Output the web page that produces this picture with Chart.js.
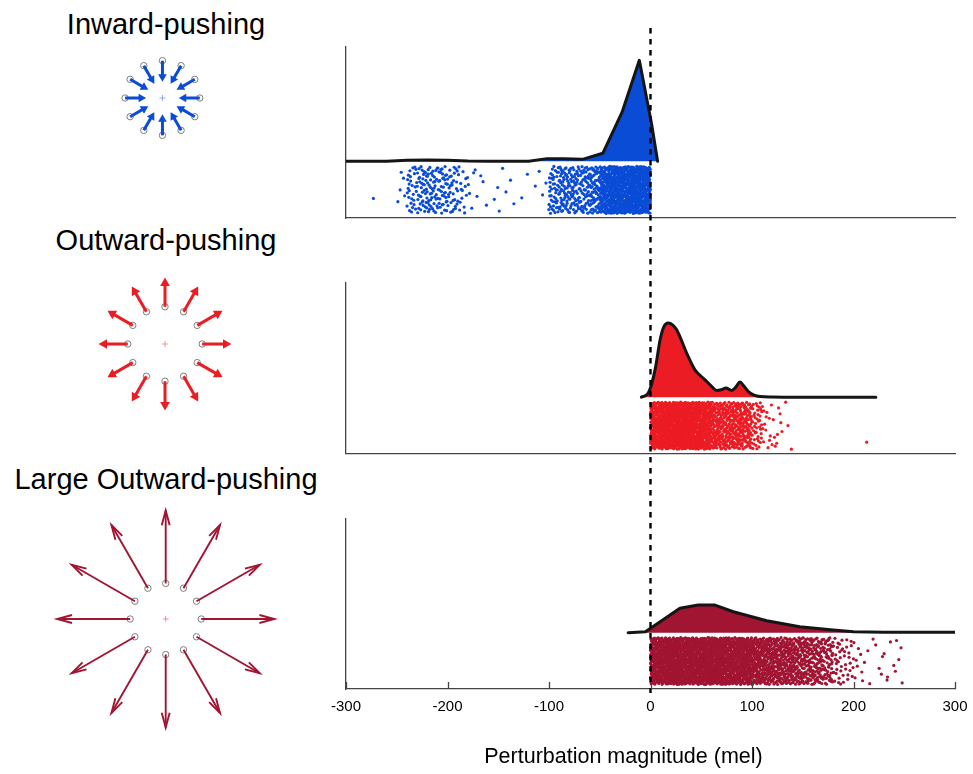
<!DOCTYPE html>
<html>
<head>
<meta charset="utf-8">
<script src="https://cdn.jsdelivr.net/npm/chart.js@4.4.0/dist/chart.umd.min.js"></script>
<style>
  html, body { margin: 0; padding: 0; background: #fff; }
  #fig { position: relative; width: 973px; height: 774px; overflow: hidden;
         font-family: "Liberation Sans", Arial, Helvetica, sans-serif; color: #000; }
  #fig canvas { position: absolute; }
  .ttl { position: absolute; font-size: 29px; line-height: 29px; white-space: nowrap;
         transform: translateX(-50%); }
  #xlabel { position: absolute; font-size: 21.5px; line-height: 21.5px; white-space: nowrap;
            transform: translateX(-50%); left: 623.5px; top: 746px; }
</style>
</head>
<body>
<div id="fig">
  <div class="ttl" style="left:166px;top:9.5px">Inward-pushing</div>
  <div class="ttl" style="left:166px;top:225.5px">Outward-pushing</div>
  <div class="ttl" style="left:166px;top:464.5px">Large Outward-pushing</div>

  <canvas id="panelIn"    width="973" height="250" style="left:0;top:0"></canvas>
  <canvas id="panelOut"   width="973" height="236" style="left:0;top:250px"></canvas>
  <canvas id="panelLarge" width="973" height="288" style="left:0;top:486px"></canvas>

  <canvas id="diagIn"    width="100" height="100" style="left:112px;top:48px"></canvas>
  <canvas id="diagOut"   width="160" height="160" style="left:85px;top:264px"></canvas>
  <canvas id="diagLarge" width="250" height="250" style="left:41px;top:494px"></canvas>

  <div id="xlabel">Perturbation magnitude (mel)</div>
</div>

<script>
// ---------- values ----------
const xTicks = [-300, -200, -100, 0, 100, 200, 300];
const binWidth = 10;                 // mel per strip bin

// Inward-pushing
const inwardDensityX = [-300, -280, -260, -240, -220, -200, -180, -160, -140, -120, -102, -85, -67, -47, -28, -11, 1, 7];
const inwardDensityY = [0, 0, 0, 0.01, 0.014, 0.012, 0.004, 0.002, 0, 0, 0.027, 0.025, 0.02, 0.08, 0.49, 1.007, 0.377, 0];
const inwardBinStart = -280;
const inwardCounts = [0, 0, 0, 5, 28, 38, 40, 38, 30, 16, 6, 3, 2, 3, 2, 2, 1, 4, 45, 55, 55, 55, 70, 130, 150, 160, 170, 170];
const inwardSingles = [[-273, -0.37]];

// Outward-pushing
const outwardDensityX = [-9, -3, 0, 5, 9.4, 13, 17.5, 22, 25.8, 30, 35.6, 43.8, 53.7, 60, 65.2, 70, 74.4, 80, 84, 88.2, 92, 96.4, 102, 108, 120, 140, 222];
const outwardDensityY = [0, 0.03, 0.093, 0.3, 0.57, 0.7, 0.74, 0.72, 0.673, 0.58, 0.44, 0.273, 0.173, 0.11, 0.066, 0.075, 0.09, 0.066, 0.1, 0.15, 0.11, 0.056, 0.02, 0.006, 0.002, 0, 0];
const outwardBinStart = 0;
const outwardCounts = [170, 200, 200, 190, 180, 150, 100, 95, 100, 85, 40, 14, 9, 3];
const outwardSingles = [[213, -0.45]];

// Large Outward-pushing
const largeDensityX = [-22, -5, 29, 47, 63.5, 81.6, 114.5, 147, 180, 200, 230, 300];
const largeDensityY = [0, 0.01, 0.244, 0.277, 0.277, 0.21, 0.12, 0.06, 0.027, 0.01, 0.004, 0.004];
const largeBinStart = 0;
const largeCounts = [170, 175, 180, 180, 180, 180, 175, 170, 165, 160, 115, 110, 105, 100, 90, 85, 75, 60, 25, 18, 8, 4, 4, 5, 5];
const largeSingles = [];

// Perturbation diagrams: 12 directions, ring of start positions and arrow tip radius
const arrowAngles = [0, 30, 60, 90, 120, 150, 180, 210, 240, 270, 300, 330];
const inwardRing = 41.5,  inwardTip = 18.7;
const outwardRing = 40,   outwardTip = 71;
const largeRing = 37,     largeTip = 113;

// ---------- styling ----------
const FONT = "'Liberation Sans', Arial, Helvetica, sans-serif";
const AXIS = '#444444';
const BLUE = '#0a4cd6';
const RED = '#ec1c24';
const DARKRED = '#a11432';
const yMin = -0.565, yMax = 1.14;          // shared vertical range of each panel
const stripTop = -0.05, stripBottom = -0.52; // jitter band below the density

// Halton layout of the observations inside each bin of the strip
function halton(i, b) {
  let f = 1, r = 0;
  while (i > 0) { f /= b; r += f * (i % b); i = Math.floor(i / b); }
  return r;
}
function stripPoints(binStart, counts, singles) {
  const pts = [];
  let k = 1;
  counts.forEach((n, i) => {
    const x0 = binStart + i * binWidth;
    for (let j = 0; j < n; j++, k++) {
      pts.push({ x: x0 + binWidth * halton(k, 3),
                 y: stripTop + (stripBottom - stripTop) * halton(k, 2) });
    }
  });
  singles.forEach(([x, y]) => pts.push({ x, y }));
  return pts;
}

// Dashed reference line at zero, continued across the stacked panels
const zeroLine = {
  id: 'zeroLine',
  afterDatasetsDraw(chart, args, o) {
    const { ctx } = chart;
    const px = chart.scales.x.getPixelForValue(0);
    ctx.save();
    ctx.strokeStyle = '#000';
    ctx.lineWidth = 2.4;
    ctx.setLineDash([5.5, 5.5]);
    ctx.lineDashOffset = o.phase;
    ctx.beginPath();
    ctx.moveTo(px, o.from);
    ctx.lineTo(px, o.to);
    ctx.stroke();
    ctx.restore();
  }
};

// Tick marks pointing into the plot area
const innerTicks = {
  id: 'innerTicks',
  afterDraw(chart, args, o) {
    if (!o.show) return;
    const { ctx } = chart;
    const xs = chart.scales.x;
    const yb = chart.chartArea.bottom;
    ctx.save();
    ctx.strokeStyle = AXIS;
    ctx.lineWidth = 1.3;
    ctx.beginPath();
    xs.ticks.forEach(t => {
      const px = Math.round(xs.getPixelForValue(t.value)) + 0.5;
      ctx.moveTo(px, yb);
      ctx.lineTo(px, yb - 7);
    });
    ctx.stroke();
    ctx.restore();
  }
};

function makePanel(id, cfg) {
  const canvas = document.getElementById(id);
  const top = parseFloat(canvas.style.top) || 0;
  return new Chart(canvas, {
    type: 'scatter',
    data: {
      datasets: [
        {
          type: 'scatter',
          data: cfg.points,
          backgroundColor: cfg.color,
          pointBackgroundColor: cfg.color,
          pointBorderWidth: 0,
          pointRadius: 1.6,
          pointHoverRadius: 1.6,
          order: 2
        },
        {
          type: 'line',
          data: cfg.densX.map((x, i) => ({ x, y: cfg.densY[i] })),
          borderColor: '#151515',
          borderWidth: 3,
          backgroundColor: cfg.color,
          fill: 'origin',
          pointRadius: 0,
          tension: cfg.smooth ? 0.4 : 0,
          cubicInterpolationMode: cfg.smooth ? 'monotone' : 'default',
          borderJoinStyle: 'round',
          borderCapStyle: 'round',
          order: 1
        }
      ]
    },
    options: {
      responsive: false,
      animation: false,
      devicePixelRatio: 1,
      events: [],
      layout: { padding: cfg.pad },
      plugins: {
        legend: { display: false },
        tooltip: { enabled: false },
        colors: { enabled: false },
        zeroLine: { from: cfg.lineFrom, to: cfg.lineTo, phase: ((top + cfg.lineFrom - 28) % 11 + 11) % 11 },
        innerTicks: { show: cfg.labels }
      },
      scales: {
        x: {
          type: 'linear', position: 'bottom', min: xTicks[0], max: xTicks[xTicks.length - 1],
          border: { display: true, color: AXIS, width: 1.3 },
          grid: { display: true, drawOnChartArea: false, drawTicks: false },
          ticks: {
            display: cfg.labels, stepSize: 100, maxRotation: 0, autoSkip: false,
            color: '#000', padding: 9, font: { family: FONT, size: 15 }
          },
          afterBuildTicks: s => { s.ticks = xTicks.map(v => ({ value: v })); },
          afterFit: s => { s.height = cfg.xHeight; s.paddingLeft = 0; s.paddingRight = 0; }
        },
        y: {
          type: 'linear', position: 'left', min: yMin, max: yMax,
          border: { display: true, color: AXIS, width: 1.3 },
          grid: { display: true, drawOnChartArea: false, drawTicks: false },
          ticks: { display: false },
          afterFit: s => { s.width = 0; s.paddingTop = 0; s.paddingBottom = 0; }
        }
      }
    },
    plugins: [zeroLine, innerTicks]
  });
}

makePanel('panelIn', {
  color: BLUE, smooth: false, labels: false,
  densX: inwardDensityX, densY: inwardDensityY,
  points: stripPoints(inwardBinStart, inwardCounts, inwardSingles),
  pad: { left: 346, right: 18, top: 47, bottom: 32 }, xHeight: 0,
  lineFrom: 28, lineTo: 250
});
makePanel('panelOut', {
  color: RED, smooth: true, labels: false,
  densX: outwardDensityX, densY: outwardDensityY,
  points: stripPoints(outwardBinStart, outwardCounts, outwardSingles),
  pad: { left: 346, right: 18, top: 33, bottom: 32.3 }, xHeight: 0,
  lineFrom: 0, lineTo: 236
});
makePanel('panelLarge', {
  color: DARKRED, smooth: false, labels: true,
  densX: largeDensityX, densY: largeDensityY,
  points: stripPoints(largeBinStart, largeCounts, largeSingles),
  pad: { left: 346, right: 18, top: 33, bottom: 45 }, xHeight: 40,
  lineFrom: 0, lineTo: 207
});

// ---------- perturbation diagrams ----------
function makeDiagram(id, cfg) {
  const datasets = [];
  const dir = cfg.outward ? 1 : -1;
  arrowAngles.forEach(deg => {
    const t = deg * Math.PI / 180, c = Math.cos(t), s = Math.sin(t);
    const a = t + (cfg.outward ? 0 : Math.PI);       // direction of travel
    if (cfg.filled) {
      const hc = cfg.tip - dir * cfg.headR;          // centre of the triangular head
      datasets.push({
        type: 'line', data: [{ x: cfg.ring * c, y: cfg.ring * s }, { x: hc * c, y: hc * s }],
        borderColor: cfg.color, borderWidth: cfg.lw, borderCapStyle: 'butt', pointRadius: 0, clip: false
      });
      datasets.push({
        type: 'scatter', data: [{ x: hc * c, y: hc * s }],
        pointStyle: 'triangle', pointRotation: 90 - a * 180 / Math.PI, rotation: 90 - a * 180 / Math.PI,
        pointRadius: cfg.headR, pointBackgroundColor: cfg.color, backgroundColor: cfg.color,
        pointBorderWidth: 0, clip: false
      });
    } else {
      const tx = cfg.tip * c, ty = cfg.tip * s;
      datasets.push({
        type: 'line', data: [{ x: cfg.ring * c, y: cfg.ring * s }, { x: tx, y: ty }],
        borderColor: cfg.color, borderWidth: cfg.lw, borderCapStyle: 'butt', pointRadius: 0, clip: false
      });
      const L = cfg.armLen, ph = cfg.armAngle * Math.PI / 180;
      datasets.push({
        type: 'line',
        data: [
          { x: tx - L * Math.cos(a + ph), y: ty - L * Math.sin(a + ph) },
          { x: tx, y: ty },
          { x: tx - L * Math.cos(a - ph), y: ty - L * Math.sin(a - ph) }
        ],
        borderColor: cfg.color, borderWidth: cfg.lw, borderJoinStyle: 'miter', borderCapStyle: 'butt',
        pointRadius: 0, clip: false
      });
    }
  });
  // start positions
  datasets.push({
    type: 'scatter',
    data: arrowAngles.map(d => ({ x: cfg.ring * Math.cos(d * Math.PI / 180), y: cfg.ring * Math.sin(d * Math.PI / 180) })),
    pointStyle: 'circle', pointRadius: 3.2, pointBorderColor: '#707070', borderColor: '#707070',
    pointBorderWidth: 0.9, pointBackgroundColor: 'rgba(255,255,255,0)', backgroundColor: 'rgba(255,255,255,0)', clip: false
  });
  // centre marker
  datasets.push({
    type: 'scatter', data: [{ x: 0, y: 0 }],
    pointStyle: 'cross', pointRadius: 3, pointBorderColor: cfg.cross, borderColor: cfg.cross,
    pointBorderWidth: 0.8, clip: false
  });
  new Chart(document.getElementById(id), {
    type: 'scatter',
    data: { datasets },
    options: {
      responsive: false, animation: false, devicePixelRatio: 1, events: [],
      layout: { padding: 0 },
      plugins: { legend: { display: false }, tooltip: { enabled: false }, colors: { enabled: false } },
      scales: {
        x: { display: false, type: 'linear', min: cfg.xr[0], max: cfg.xr[1] },
        y: { display: false, type: 'linear', min: cfg.yr[0], max: cfg.yr[1] }
      }
    }
  });
}

makeDiagram('diagIn', {
  color: BLUE, cross: 'rgba(10,76,214,0.55)', outward: false, filled: true,
  ring: inwardRing, tip: inwardTip, lw: 3, headR: 5,
  xr: [-50.5, 49.5], yr: [-50, 50]
});
makeDiagram('diagOut', {
  color: RED, cross: 'rgba(236,28,36,0.55)', outward: true, filled: true,
  ring: outwardRing, tip: outwardTip, lw: 3, headR: 5.6,
  xr: [-80, 80], yr: [-80, 80]
});
makeDiagram('diagLarge', {
  color: DARKRED, cross: 'rgba(220,40,60,0.6)', outward: true, filled: false,
  ring: largeRing, tip: largeTip, lw: 1.9, armLen: 16, armAngle: 15,
  xr: [-124.7, 125.3], yr: [-125, 125]
});
</script>
</body>
</html>
